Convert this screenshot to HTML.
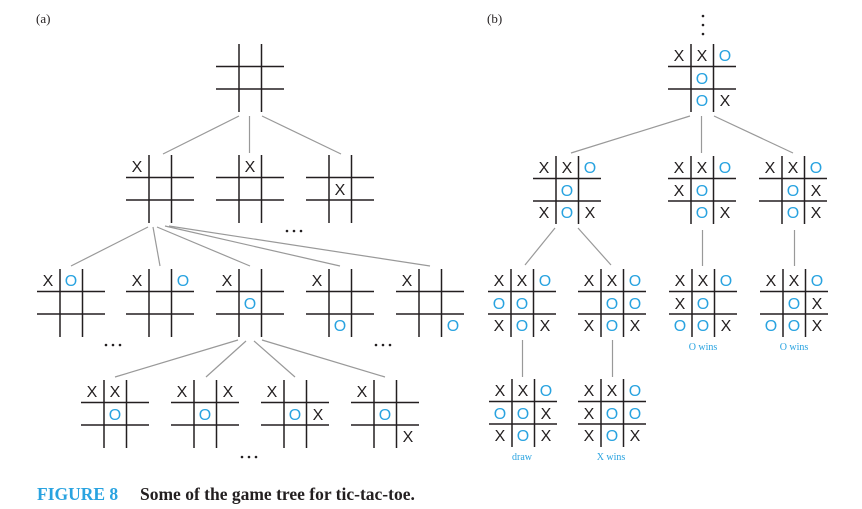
<!DOCTYPE html>
<html><head><meta charset="utf-8"><style>
html,body{margin:0;padding:0;background:#fff;width:862px;height:509px;overflow:hidden}
svg{display:block}
.x{font:16px "Liberation Sans",sans-serif;fill:#231f20;text-anchor:middle}
.o{font:16px "Liberation Sans",sans-serif;fill:#29a3e0;text-anchor:middle}
.l{stroke:#999;stroke-width:1.2;fill:none}
.lab{font:10px "Liberation Serif",serif;fill:#29a3e0;text-anchor:middle}
</style></head><body>
<svg width="862" height="509" viewBox="0 0 862 509">
<defs>
<g id="g">
<line x1="23" y1="0" x2="23" y2="68" stroke="#231f20" stroke-width="1.5"/>
<line x1="45.5" y1="0" x2="45.5" y2="68" stroke="#231f20" stroke-width="1.5"/>
<line x1="0" y1="22.5" x2="68" y2="22.5" stroke="#231f20" stroke-width="1.5"/>
<line x1="0" y1="45" x2="68" y2="45" stroke="#231f20" stroke-width="1.5"/>
</g>
</defs>
<text x="36" y="23" style="font:13px 'Liberation Serif',serif" fill="#231f20">(a)</text>
<text x="487" y="23" style="font:13px 'Liberation Serif',serif" fill="#231f20">(b)</text>

<line class="l" x1="239" y1="116" x2="163" y2="154"/>
<line class="l" x1="249.5" y1="116" x2="249.5" y2="153"/>
<line class="l" x1="262" y1="116" x2="341" y2="154"/>
<line class="l" x1="148" y1="227" x2="71" y2="266"/>
<line class="l" x1="153" y1="227" x2="160" y2="266"/>
<line class="l" x1="157" y1="227" x2="250" y2="266"/>
<line class="l" x1="165" y1="226" x2="340" y2="266"/>
<line class="l" x1="169" y1="226" x2="430" y2="266"/>
<line class="l" x1="238" y1="340" x2="115" y2="377"/>
<line class="l" x1="246" y1="341" x2="206" y2="377"/>
<line class="l" x1="254" y1="341" x2="295" y2="377"/>
<line class="l" x1="262" y1="340" x2="385" y2="377"/>

<use href="#g" x="216" y="44"/>
<g transform="translate(126,155)"><use href="#g"/><text class="x" x="11" y="17">X</text></g>
<g transform="translate(216,155)"><use href="#g"/><text class="x" x="34" y="17">X</text></g>
<g transform="translate(306,155)"><use href="#g"/><text class="x" x="34" y="40">X</text></g>

<g transform="translate(37,269)"><use href="#g"/><text class="x" x="11" y="17">X</text><text class="o" x="34" y="17">O</text></g>
<g transform="translate(126,269)"><use href="#g"/><text class="x" x="11" y="17">X</text><text class="o" x="57" y="17">O</text></g>
<g transform="translate(216,269)"><use href="#g"/><text class="x" x="11" y="17">X</text><text class="o" x="34" y="40">O</text></g>
<g transform="translate(306,269)"><use href="#g"/><text class="x" x="11" y="17">X</text><text class="o" x="34" y="62">O</text></g>
<g transform="translate(396,269)"><use href="#g"/><text class="x" x="11" y="17">X</text><text class="o" x="57" y="62">O</text></g>

<g transform="translate(81,380)"><use href="#g"/><text class="x" x="11" y="17">X</text><text class="x" x="34" y="17">X</text><text class="o" x="34" y="40">O</text></g>
<g transform="translate(171,380)"><use href="#g"/><text class="x" x="11" y="17">X</text><text class="x" x="57" y="17">X</text><text class="o" x="34" y="40">O</text></g>
<g transform="translate(261,380)"><use href="#g"/><text class="x" x="11" y="17">X</text><text class="o" x="34" y="40">O</text><text class="x" x="57" y="40">X</text></g>
<g transform="translate(351,380)"><use href="#g"/><text class="x" x="11" y="17">X</text><text class="o" x="34" y="40">O</text><text class="x" x="57" y="62">X</text></g>

<g fill="#231f20">
<circle cx="287" cy="231" r="1.3"/><circle cx="294" cy="231" r="1.3"/><circle cx="301" cy="231" r="1.3"/>
<circle cx="106" cy="345" r="1.3"/><circle cx="113" cy="345" r="1.3"/><circle cx="120" cy="345" r="1.3"/>
<circle cx="376" cy="345" r="1.3"/><circle cx="383" cy="345" r="1.3"/><circle cx="390" cy="345" r="1.3"/>
<circle cx="242" cy="457" r="1.3"/><circle cx="249" cy="457" r="1.3"/><circle cx="256" cy="457" r="1.3"/>
<circle cx="703" cy="16" r="1.3"/><circle cx="703" cy="25" r="1.3"/><circle cx="703" cy="34" r="1.3"/>
</g>

<line class="l" x1="690" y1="116" x2="571" y2="153"/>
<line class="l" x1="701.5" y1="116" x2="701.5" y2="153"/>
<line class="l" x1="714" y1="116" x2="793" y2="153"/>
<line class="l" x1="555" y1="228" x2="525" y2="265"/>
<line class="l" x1="578" y1="228" x2="611" y2="265"/>
<line class="l" x1="702.5" y1="230" x2="702.5" y2="266"/>
<line class="l" x1="794.5" y1="230" x2="794.5" y2="266"/>
<line class="l" x1="522.5" y1="340" x2="522.5" y2="377"/>
<line class="l" x1="612.5" y1="340" x2="612.5" y2="377"/>

<g transform="translate(668,44)"><use href="#g"/><text class="x" x="11" y="17">X</text><text class="x" x="34" y="17">X</text><text class="o" x="57" y="17">O</text><text class="o" x="34" y="40">O</text><text class="o" x="34" y="62">O</text><text class="x" x="57" y="62">X</text></g>

<g transform="translate(533,156)"><use href="#g"/><text class="x" x="11" y="17">X</text><text class="x" x="34" y="17">X</text><text class="o" x="57" y="17">O</text><text class="o" x="34" y="40">O</text><text class="x" x="11" y="62">X</text><text class="o" x="34" y="62">O</text><text class="x" x="57" y="62">X</text></g>
<g transform="translate(668,156)"><use href="#g"/><text class="x" x="11" y="17">X</text><text class="x" x="34" y="17">X</text><text class="o" x="57" y="17">O</text><text class="x" x="11" y="40">X</text><text class="o" x="34" y="40">O</text><text class="o" x="34" y="62">O</text><text class="x" x="57" y="62">X</text></g>
<g transform="translate(759,156)"><use href="#g"/><text class="x" x="11" y="17">X</text><text class="x" x="34" y="17">X</text><text class="o" x="57" y="17">O</text><text class="o" x="34" y="40">O</text><text class="x" x="57" y="40">X</text><text class="o" x="34" y="62">O</text><text class="x" x="57" y="62">X</text></g>

<g transform="translate(488,269)"><use href="#g"/><text class="x" x="11" y="17">X</text><text class="x" x="34" y="17">X</text><text class="o" x="57" y="17">O</text><text class="o" x="11" y="40">O</text><text class="o" x="34" y="40">O</text><text class="x" x="11" y="62">X</text><text class="o" x="34" y="62">O</text><text class="x" x="57" y="62">X</text></g>
<g transform="translate(578,269)"><use href="#g"/><text class="x" x="11" y="17">X</text><text class="x" x="34" y="17">X</text><text class="o" x="57" y="17">O</text><text class="o" x="34" y="40">O</text><text class="o" x="57" y="40">O</text><text class="x" x="11" y="62">X</text><text class="o" x="34" y="62">O</text><text class="x" x="57" y="62">X</text></g>
<g transform="translate(669,269)"><use href="#g"/><text class="x" x="11" y="17">X</text><text class="x" x="34" y="17">X</text><text class="o" x="57" y="17">O</text><text class="x" x="11" y="40">X</text><text class="o" x="34" y="40">O</text><text class="o" x="11" y="62">O</text><text class="o" x="34" y="62">O</text><text class="x" x="57" y="62">X</text></g>
<g transform="translate(760,269)"><use href="#g"/><text class="x" x="11" y="17">X</text><text class="x" x="34" y="17">X</text><text class="o" x="57" y="17">O</text><text class="o" x="34" y="40">O</text><text class="x" x="57" y="40">X</text><text class="o" x="11" y="62">O</text><text class="o" x="34" y="62">O</text><text class="x" x="57" y="62">X</text></g>

<g transform="translate(489,379)"><use href="#g"/><text class="x" x="11" y="17">X</text><text class="x" x="34" y="17">X</text><text class="o" x="57" y="17">O</text><text class="o" x="11" y="40">O</text><text class="o" x="34" y="40">O</text><text class="x" x="57" y="40">X</text><text class="x" x="11" y="62">X</text><text class="o" x="34" y="62">O</text><text class="x" x="57" y="62">X</text></g>
<g transform="translate(578,379)"><use href="#g"/><text class="x" x="11" y="17">X</text><text class="x" x="34" y="17">X</text><text class="o" x="57" y="17">O</text><text class="x" x="11" y="40">X</text><text class="o" x="34" y="40">O</text><text class="o" x="57" y="40">O</text><text class="x" x="11" y="62">X</text><text class="o" x="34" y="62">O</text><text class="x" x="57" y="62">X</text></g>

<text class="lab" x="522" y="460">draw</text>
<text class="lab" x="611" y="460">X wins</text>
<text class="lab" x="703" y="350">O wins</text>
<text class="lab" x="794" y="350">O wins</text>

<text x="37" y="500" style="font:bold 17.5px 'Liberation Serif',serif" fill="#29a3e0">FIGURE 8</text>
<text x="140" y="500" style="font:bold 17.5px 'Liberation Serif',serif" fill="#231f20">Some of the game tree for tic-tac-toe.</text>
</svg>
</body></html>
